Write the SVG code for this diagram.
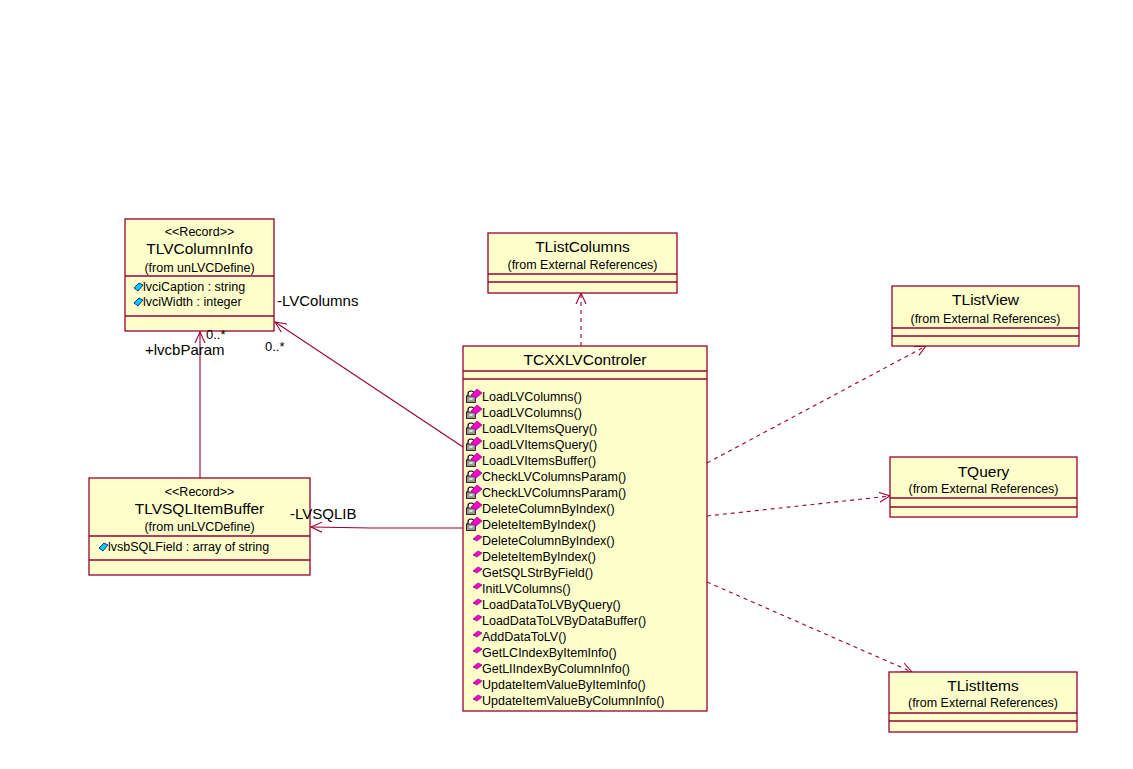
<svg xmlns="http://www.w3.org/2000/svg" width="1133" height="769" viewBox="0 0 1133 769">
<style>
.box{fill:#ffffcc;stroke:#990033;stroke-width:1.3}
.sep{stroke:#990033;stroke-width:1.3}
.t{font-family:"Liberation Sans",Arial,sans-serif;fill:#000}
.title{font-size:15.5px;text-anchor:middle}
.sub{font-size:12.5px;text-anchor:middle}
.item{font-size:12.5px}
.lbl{font-size:15px}
.mult{font-size:13px}
.conn{fill:none;stroke:#990033;stroke-width:1.1}
.dash{stroke-dasharray:4,4}
</style>
<defs>
<marker id="open" markerWidth="14" markerHeight="12" refX="11" refY="6" orient="auto" markerUnits="userSpaceOnUse">
<path d="M0,1 L11,6 L0,11" fill="none" stroke="#990033" stroke-width="1.1"/>
</marker>
<g id="priv">
<path d="M2,-6 V-8 A3,3 0 0 1 8,-8 V-6" fill="none" stroke="#000" stroke-width="1.2"/>
<rect x="0.5" y="-6" width="9" height="6.5" fill="#9a9a9a" stroke="#000" stroke-width="0.8"/>
<rect x="3.5" y="-4" width="3" height="2" fill="#e0e0e0"/>
<path d="M5,-7 L11,-13 L16,-9 L10,-4 Z" fill="#ff00cc" stroke="#800080" stroke-width="0.7"/>
</g>
<g id="pub">
<path d="M0,-7 L5,-11 L9,-9 L4,-5 Z" fill="#ff00cc" stroke="#800080" stroke-width="0.7"/>
</g>
<g id="attr">
<path d="M0,-4 L5,-9 L9,-7 L4,-1 Z" fill="#00ccff" stroke="#000080" stroke-width="0.8"/>
</g>
</defs>
<rect width="1133" height="769" fill="#fff"/>

<g id="connectors">
<line class="conn" x1="463" y1="447" x2="275" y2="322" marker-end="url(#open)"/>
<line class="conn" x1="200" y1="478" x2="200" y2="332" marker-end="url(#open)"/>
<polyline class="conn" points="463,528 371,528 311,527" marker-end="url(#open)"/>
<line class="conn dash" x1="581" y1="346" x2="581" y2="293" marker-end="url(#open)"/>
<line class="conn dash" x1="707" y1="463" x2="926" y2="346" marker-end="url(#open)"/>
<line class="conn dash" x1="707" y1="516" x2="890" y2="496" marker-end="url(#open)"/>
<line class="conn dash" x1="707" y1="582" x2="912" y2="672" marker-end="url(#open)"/>
</g>

<g id="TLVColumnInfo">
<rect class="box" x="125" y="219" width="149" height="112"/>
<line class="sep" x1="125" y1="276" x2="274" y2="276"/>
<line class="sep" x1="125" y1="316" x2="274" y2="316"/>
<text class="t sub" x="199.5" y="236">&lt;&lt;Record&gt;&gt;</text>
<text class="t title" x="199.5" y="254">TLVColumnInfo</text>
<text class="t sub" x="199.5" y="272">(from unLVCDefine)</text>
<use href="#attr" x="134" y="292"/>
<use href="#attr" x="134" y="307"/>
<text class="t item" x="143" y="291">lvciCaption : string</text>
<text class="t item" x="143" y="306">lvciWidth : integer</text>
</g>

<g id="TLVSQLItemBuffer">
<rect class="box" x="89" y="478" width="221" height="97"/>
<line class="sep" x1="89" y1="536" x2="310" y2="536"/>
<line class="sep" x1="89" y1="560" x2="310" y2="560"/>
<text class="t sub" x="199.5" y="496">&lt;&lt;Record&gt;&gt;</text>
<text class="t title" x="199.5" y="514">TLVSQLItemBuffer</text>
<text class="t sub" x="199.5" y="531">(from unLVCDefine)</text>
<use href="#attr" x="99" y="552"/>
<text class="t item" x="108" y="551">lvsbSQLField : array of string</text>
</g>

<g id="TCXXLVControler">
<rect class="box" x="463" y="346" width="244" height="365"/>
<line class="sep" x1="463" y1="371" x2="707" y2="371"/>
<line class="sep" x1="463" y1="379" x2="707" y2="379"/>
<text class="t title" x="585" y="365">TCXXLVControler</text>
<use href="#priv" x="466" y="402"/>
<use href="#priv" x="466" y="418"/>
<use href="#priv" x="466" y="434"/>
<use href="#priv" x="466" y="450"/>
<use href="#priv" x="466" y="466"/>
<use href="#priv" x="466" y="482"/>
<use href="#priv" x="466" y="498"/>
<use href="#priv" x="466" y="514"/>
<use href="#priv" x="466" y="530"/>
<use href="#pub" x="473" y="546"/>
<use href="#pub" x="473" y="562"/>
<use href="#pub" x="473" y="578"/>
<use href="#pub" x="473" y="594"/>
<use href="#pub" x="473" y="610"/>
<use href="#pub" x="473" y="626"/>
<use href="#pub" x="473" y="642"/>
<use href="#pub" x="473" y="658"/>
<use href="#pub" x="473" y="674"/>
<use href="#pub" x="473" y="690"/>
<use href="#pub" x="473" y="706"/>
<text class="t item" x="482" y="401">LoadLVColumns()</text>
<text class="t item" x="482" y="417">LoadLVColumns()</text>
<text class="t item" x="482" y="433">LoadLVItemsQuery()</text>
<text class="t item" x="482" y="449">LoadLVItemsQuery()</text>
<text class="t item" x="482" y="465">LoadLVItemsBuffer()</text>
<text class="t item" x="482" y="481">CheckLVColumnsParam()</text>
<text class="t item" x="482" y="497">CheckLVColumnsParam()</text>
<text class="t item" x="482" y="513">DeleteColumnByIndex()</text>
<text class="t item" x="482" y="529">DeleteItemByIndex()</text>
<text class="t item" x="482" y="545">DeleteColumnByIndex()</text>
<text class="t item" x="482" y="561">DeleteItemByIndex()</text>
<text class="t item" x="482" y="577">GetSQLStrByField()</text>
<text class="t item" x="482" y="593">InitLVColumns()</text>
<text class="t item" x="482" y="609">LoadDataToLVByQuery()</text>
<text class="t item" x="482" y="625">LoadDataToLVByDataBuffer()</text>
<text class="t item" x="482" y="641">AddDataToLV()</text>
<text class="t item" x="482" y="657">GetLCIndexByItemInfo()</text>
<text class="t item" x="482" y="673">GetLIIndexByColumnInfo()</text>
<text class="t item" x="482" y="689">UpdateItemValueByItemInfo()</text>
<text class="t item" x="482" y="705">UpdateItemValueByColumnInfo()</text>
</g>

<g id="TListColumns">
<rect class="box" x="488" y="233" width="189" height="60"/>
<line class="sep" x1="488" y1="274" x2="677" y2="274"/>
<line class="sep" x1="488" y1="282" x2="677" y2="282"/>
<text class="t title" x="582.5" y="252">TListColumns</text>
<text class="t sub" x="582.5" y="269">(from External References)</text>
</g>

<g id="TListView">
<rect class="box" x="892" y="286" width="187" height="60"/>
<line class="sep" x1="892" y1="328" x2="1079" y2="328"/>
<line class="sep" x1="892" y1="336" x2="1079" y2="336"/>
<text class="t title" x="985.5" y="305">TListView</text>
<text class="t sub" x="985.5" y="323">(from External References)</text>
</g>

<g id="TQuery">
<rect class="box" x="890" y="457" width="187" height="60"/>
<line class="sep" x1="890" y1="498" x2="1077" y2="498"/>
<line class="sep" x1="890" y1="507" x2="1077" y2="507"/>
<text class="t title" x="983.5" y="477">TQuery</text>
<text class="t sub" x="983.5" y="493">(from External References)</text>
</g>

<g id="TListItems">
<rect class="box" x="889" y="672" width="188" height="60"/>
<line class="sep" x1="889" y1="713" x2="1077" y2="713"/>
<line class="sep" x1="889" y1="721" x2="1077" y2="721"/>
<text class="t title" x="983" y="691">TListItems</text>
<text class="t sub" x="983" y="707">(from External References)</text>
</g>

<g id="connector-labels">
<text class="t lbl" x="277" y="306">-LVColumns</text>
<text class="t mult" x="265" y="351">0..*</text>
<text class="t mult" x="206" y="339">0..*</text>
<text class="t lbl" x="145" y="355">+lvcbParam</text>
<text class="t lbl" x="290" y="519">-LVSQLIB</text>
</g>
</svg>
